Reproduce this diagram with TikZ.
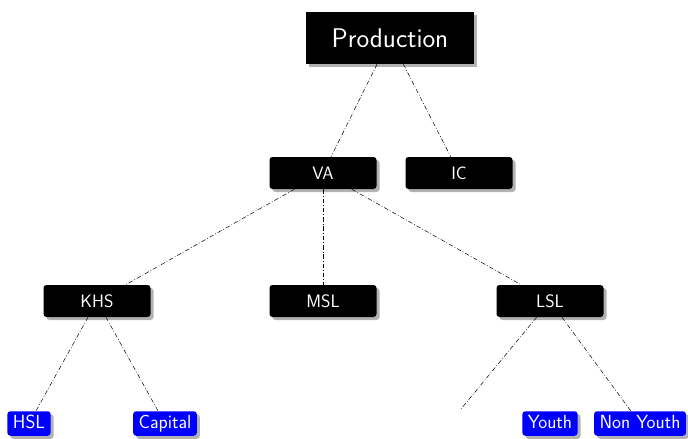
\documentclass[tikz,border=0pt]{standalone}
\usepackage{fontspec}
\usetikzlibrary{shadows}
\begin{document}
\begin{tikzpicture}[x=1pt,y=-1pt,
  shade/.style={drop shadow={shadow xshift=3pt, shadow yshift=-3pt, fill=black!30, opacity=1}},
  blackbox/.style={fill=black, text=white, rounded corners=3pt, minimum width=107pt, minimum height=32pt, inner sep=0pt, font=\sffamily\fontsize{18}{20}\selectfont, shade},
  topbox/.style={blackbox, rounded corners=0pt, minimum width=168pt, minimum height=52pt, font=\sffamily\fontsize{27}{30}\selectfont},
  bluebox/.style={fill=blue, text=white, rounded corners=3pt, inner xsep=5.5pt, inner ysep=3.5pt, text height=13.5pt, text depth=4pt, font=\sffamily\fontsize{19}{21}\selectfont, shade},
  link/.style={draw=black, line width=0.5pt, dash pattern=on 4.5pt off 2pt on 0.8pt off 2pt}
]
\useasboundingbox (0,0) rectangle (688,439);
\node[topbox] (P) at (390,38) {Production};
\node[blackbox] (VA) at (323,173) {VA};
\node[blackbox] (IC) at (459,173) {IC};
\node[blackbox] (KHS) at (97,301) {KHS};
\node[blackbox] (MSL) at (323,301) {MSL};
\node[blackbox] (LSL) at (550,301) {LSL};
\node[bluebox] (HSL) at (29,423.5) {HSL};
\node[bluebox] (Cap) at (165,423.5) {Capital};
\node[bluebox] (Y) at (550,423.5) {Youth};
\node[bluebox] (NY) at (640,423.5) {Non Youth};
\coordinate (yc) at (461,409);
\draw[link] (P) -- (VA);
\draw[link] (P) -- (IC);
\draw[link] (VA) -- (KHS);
\draw[link] (VA) -- (MSL);
\draw[link] (VA) -- (LSL);
\draw[link] (KHS) -- (HSL);
\draw[link] (KHS) -- (Cap);
\draw[link] (LSL) -- (yc);
\draw[link] (LSL) -- (NY);
\end{tikzpicture}
\end{document}
